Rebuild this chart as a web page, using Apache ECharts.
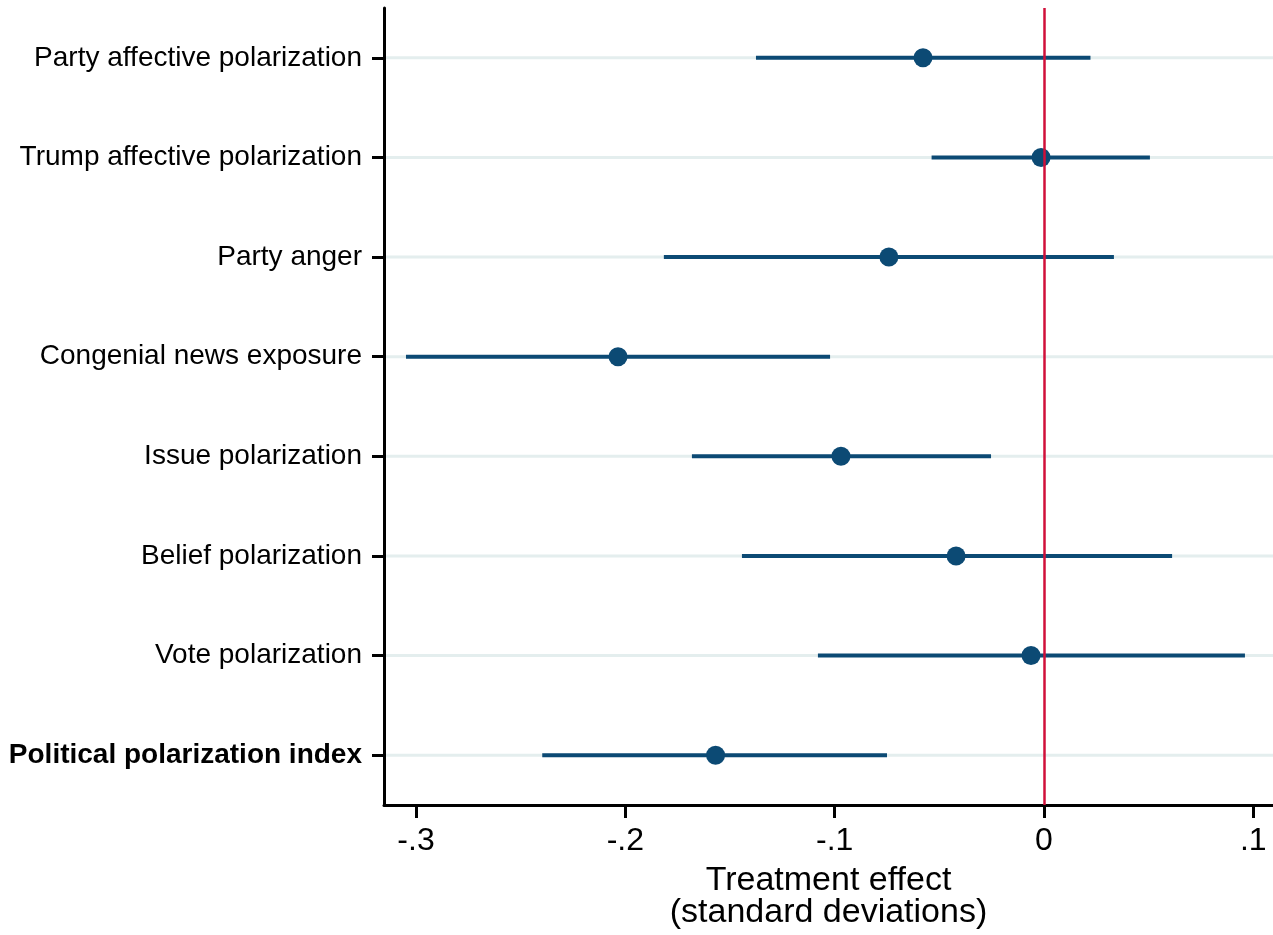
<!DOCTYPE html>
<html>
<head>
<meta charset="utf-8">
<script src="https://cdn.jsdelivr.net/npm/echarts@6/dist/echarts.min.js"></script>
<style>
  html, body { margin: 0; padding: 0; background: #fff; }
  #chart { width: 1273px; height: 935px; }
</style>
</head>
<body>
<div id="chart"></div>
<script>
// outcomes, top to bottom
const outcomes = [
  "Party affective polarization",
  "Trump affective polarization",
  "Party anger",
  "Congenial news exposure",
  "Issue polarization",
  "Belief polarization",
  "Vote polarization",
  "Political polarization index",
];
const estimate = [-0.0578, -0.0014, -0.0741, -0.2035, -0.0970, -0.0420, -0.0062, -0.1569];
const ciLow = [-0.1376, -0.0537, -0.1816, -0.3048, -0.1682, -0.1443, -0.1080, -0.2397];
const ciHigh = [0.0222, 0.0506, 0.0334, -0.1022, -0.0253, 0.0612, 0.0960, -0.0750];
const xTicks = [-0.3, -0.2, -0.1, 0, 0.1];
const boldLabel = "Political polarization index";

const navy = "#0c4a74";
const fontFamily = "'Liberation Sans', Arial, Helvetica, sans-serif";

function fmtTick(v) {
  if (Math.abs(v) < 1e-9) return "0";
  return v.toFixed(1).replace("0.", ".");
}

const chart = echarts.init(document.getElementById("chart"));

const option = {
  animation: false,
  textStyle: { fontFamily: fontFamily },
  grid: { left: 384, right: 0, top: 8, bottom: 128 },
  xAxis: {
    type: "value",
    min: -0.3153,
    max: 0.1094,
    name: "Treatment effect\n(standard deviations)",
    nameLocation: "middle",
    nameGap: 60,
    nameTextStyle: { fontSize: 34, color: "#000", lineHeight: 32, fontFamily: fontFamily },
    axisLine: { show: true, onZero: false, lineStyle: { color: "#000", width: 3 } },
    axisTick: { show: true, length: 13, lineStyle: { color: "#000", width: 3 }, customValues: xTicks },
    axisLabel: { fontSize: 32, color: "#000", margin: 20, customValues: xTicks, formatter: fmtTick },
    splitLine: { show: false },
  },
  yAxis: {
    type: "category",
    data: outcomes,
    inverse: true,
    axisLine: { show: true, onZero: false, lineStyle: { color: "#000", width: 3 } },
    axisTick: { show: true, alignWithLabel: true, length: 12, lineStyle: { color: "#000", width: 3 } },
    axisLabel: {
      fontSize: 28,
      color: "#000",
      margin: 22,
      formatter: (v) => (v === boldLabel ? "{b|" + v + "}" : v),
      rich: { b: { fontSize: 28, fontWeight: "bold", color: "#000", fontFamily: fontFamily } },
    },
    splitLine: { show: false },
  },
  series: [
    {
      // light row lines
      type: "custom",
      z: 1,
      silent: true,
      data: outcomes.map((o, i) => [i]),
      encode: { y: 0 },
      renderItem: (params, api) => {
        const y = api.coord([0, api.value(0)])[1];
        const cs = params.coordSys;
        return {
          type: "line",
          shape: { x1: cs.x + 2, y1: y, x2: cs.x + cs.width, y2: y },
          style: { stroke: "#e4eeee", lineWidth: 3 },
        };
      },
    },
    {
      // confidence intervals
      type: "custom",
      z: 2,
      silent: true,
      data: outcomes.map((o, i) => [ciLow[i], ciHigh[i], i]),
      encode: { x: [0, 1], y: 2 },
      renderItem: (params, api) => {
        const p1 = api.coord([api.value(0), api.value(2)]);
        const p2 = api.coord([api.value(1), api.value(2)]);
        return {
          type: "line",
          shape: { x1: p1[0], y1: p1[1], x2: p2[0], y2: p2[1] },
          style: { stroke: navy, lineWidth: 4 },
        };
      },
    },
    {
      // zero reference line
      type: "line",
      z: 3,
      data: [],
      markLine: {
        silent: true,
        symbol: "none",
        label: { show: false },
        lineStyle: { color: "#d0103a", width: 2.5, type: "solid" },
        data: [{ xAxis: 0 }],
      },
    },
    {
      type: "scatter",
      z: 4,
      symbol: "circle",
      symbolSize: 19,
      itemStyle: { color: navy, opacity: 1 },
      data: outcomes.map((o, i) => [estimate[i], i]),
    },
  ],
};

chart.setOption(option);
</script>
</body>
</html>
